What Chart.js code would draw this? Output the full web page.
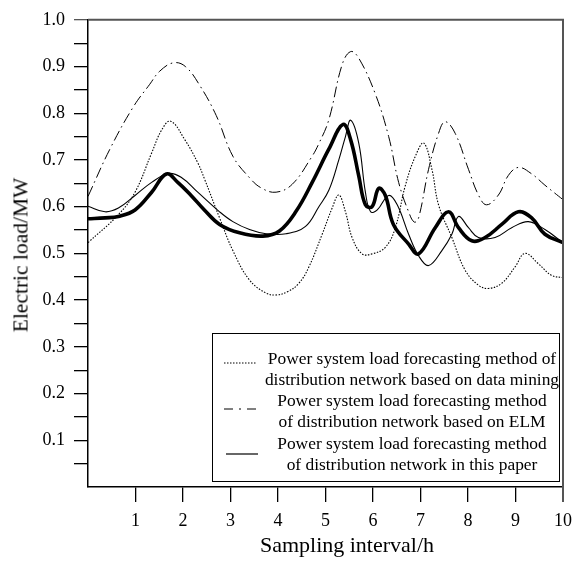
<!DOCTYPE html>
<html>
<head>
<meta charset="utf-8">
<script src="https://cdn.jsdelivr.net/npm/chart.js@4"></script>
<style>
  body { margin: 0; background: #fff; }
  #wrap { position: relative; width: 580px; height: 566px; font-family: "Liberation Serif", "DejaVu Serif", serif; color: #000; }
  #chart { position: absolute; left: 0; top: 0; }
  .ytitle { position: absolute; left: 21px; top: 255px; transform: translate(-50%, -50%) rotate(-90deg); font-size: 21.5px; white-space: nowrap; }
  .xtitle { position: absolute; left: 347px; top: 545px; transform: translate(-50%, -50%); font-size: 22px; white-space: nowrap; }
  .legend { position: absolute; left: 212px; top: 333px; width: 346px; height: 147px; border: 1.3px solid #000; background: #fff; }
  .legend .txt { position: absolute; left: 40px; width: 318px; text-align: center; font-size: 17.4px; line-height: 21px; white-space: nowrap; }
  .legend svg { position: absolute; left: 0; top: 0; }
</style>
</head>
<body>
<div id="wrap">
  <canvas id="chart" width="580" height="566"></canvas>
  <div class="ytitle">Electric load/MW</div>
  <div class="xtitle">Sampling interval/h</div>
  <div class="legend">
    <svg width="60" height="147">
      <line x1="11" y1="29" x2="43" y2="29" stroke="#000" stroke-width="1" stroke-dasharray="1.5 1.5"/>
      <line x1="11" y1="75" x2="43" y2="75" stroke="#000" stroke-width="1" stroke-dasharray="9 6 2 6 9 100"/>
      <line x1="13" y1="120" x2="45" y2="120" stroke="#000" stroke-width="1.2"/>
    </svg>
    <div class="txt" style="top:14px">Power system load forecasting method of<br>distribution network based on data mining</div>
    <div class="txt" style="top:56px">Power system load forecasting method<br>of distribution network based on ELM</div>
    <div class="txt" style="top:99px">Power system load forecasting method<br>of distribution network in this paper</div>
  </div>
</div>
<script>
// data mining method (dotted)
const miningX = [0, 0.64, 0.99, 1.34, 1.55, 1.74, 2.04, 2.31, 2.45, 2.77, 3.05, 3.4, 3.75, 3.96, 4.2, 4.44, 4.65, 4.93, 5.14, 5.28, 5.42, 5.56, 5.77, 5.98, 6.26, 6.47, 6.68, 6.9, 7.07, 7.24, 7.38, 7.66, 7.94, 8.22, 8.43, 8.71, 8.99, 9.2, 9.48, 9.76, 10];
const miningY = [0.523, 0.583, 0.631, 0.715, 0.764, 0.783, 0.743, 0.694, 0.66, 0.576, 0.506, 0.443, 0.415, 0.411, 0.418, 0.436, 0.471, 0.541, 0.597, 0.625, 0.589, 0.534, 0.499, 0.499, 0.513, 0.555, 0.645, 0.71, 0.736, 0.68, 0.604, 0.534, 0.464, 0.432, 0.425, 0.436, 0.471, 0.5, 0.478, 0.453, 0.448];

// ELM method (dash-dot)
const elmX = [0, 0.46, 0.95, 1.3, 1.51, 1.8, 2.05, 2.35, 2.7, 3.05, 3.4, 3.65, 3.96, 4.3, 4.7, 4.86, 5.07, 5.35, 5.53, 5.7, 6.05, 6.33, 6.54, 6.75, 6.87, 6.96, 7.17, 7.38, 7.52, 7.73, 8.01, 8.22, 8.39, 8.64, 8.85, 9.06, 9.33, 9.62, 10];
const elmY = [0.622, 0.723, 0.813, 0.862, 0.89, 0.908, 0.9, 0.86, 0.795, 0.708, 0.662, 0.64, 0.631, 0.648, 0.705, 0.735, 0.786, 0.904, 0.932, 0.918, 0.841, 0.75, 0.652, 0.589, 0.567, 0.576, 0.68, 0.757, 0.782, 0.757, 0.68, 0.625, 0.604, 0.625, 0.667, 0.684, 0.671, 0.646, 0.615];

// method in this paper (thin solid)
const paperX = [0, 0.36, 0.64, 0.99, 1.34, 1.69, 1.96, 2.31, 2.77, 3.05, 3.4, 3.75, 4.17, 4.58, 4.86, 5.07, 5.28, 5.42, 5.53, 5.7, 5.84, 5.95, 6.09, 6.33, 6.51, 6.75, 6.96, 7.17, 7.45, 7.66, 7.8, 8.01, 8.22, 8.57, 8.92, 9.27, 9.62, 10];
const paperY = [0.601, 0.589, 0.597, 0.624, 0.652, 0.671, 0.663, 0.631, 0.589, 0.568, 0.551, 0.542, 0.542, 0.558, 0.6, 0.635, 0.7, 0.75, 0.785, 0.736, 0.631, 0.589, 0.593, 0.624, 0.604, 0.541, 0.495, 0.474, 0.506, 0.541, 0.579, 0.555, 0.534, 0.534, 0.555, 0.568, 0.551, 0.523];

// actual load (thick solid, not in legend)
const actualX = [0, 0.36, 0.64, 0.99, 1.34, 1.65, 1.89, 2.17, 2.45, 2.77, 3.19, 3.68, 4.03, 4.38, 4.72, 5.07, 5.37, 5.53, 5.7, 5.84, 5.98, 6.12, 6.26, 6.43, 6.75, 6.96, 7.31, 7.59, 7.8, 8.08, 8.36, 8.71, 9.06, 9.34, 9.62, 10];
const actualY = [0.574, 0.576, 0.579, 0.593, 0.631, 0.67, 0.652, 0.624, 0.593, 0.562, 0.544, 0.537, 0.548, 0.59, 0.652, 0.723, 0.776, 0.743, 0.666, 0.604, 0.6, 0.639, 0.624, 0.562, 0.52, 0.499, 0.555, 0.589, 0.555, 0.527, 0.534, 0.562, 0.589, 0.576, 0.541, 0.523];

const xTicks = [1, 2, 3, 4, 5, 6, 7, 8, 9, 10];
const yTicks = [0.1, 0.2, 0.3, 0.4, 0.5, 0.6, 0.7, 0.8, 0.9, 1.0];

const pts = (xs, ys) => xs.map((x, i) => ({ x, y: ys[i] }));
const tickFont = { family: '"Liberation Serif", serif', size: 18 };

const line = (data, width, dash) => ({
  data, borderColor: '#000', borderWidth: width, borderDash: dash,
  pointRadius: 0, fill: false, tension: 0.4,
});

// gray top / right frame
const frame = {
  id: 'frame',
  afterDraw(chart) {
    const { ctx, chartArea: a } = chart;
    ctx.save();
    ctx.strokeStyle = '#555';
    ctx.lineWidth = 2;
    ctx.beginPath();
    ctx.moveTo(a.left, a.top);
    ctx.lineTo(a.right, a.top);
    ctx.lineTo(a.right, a.bottom + 15);
    ctx.stroke();
    ctx.restore();
  },
};

new Chart(document.getElementById('chart'), {
  type: 'line',
  data: {
    datasets: [
      line(pts(miningX, miningY), 1.1, [1.5, 1.5]),
      line(pts(elmX, elmY), 1, [11, 4, 1.5, 4]),
      line(pts(paperX, paperY), 1.1, []),
      line(pts(actualX, actualY), 3.6, []),
    ],
  },
  options: {
    responsive: false,
    animation: false,
    layout: { padding: { top: 11, right: 15, left: 0, bottom: 0 } },
    plugins: { legend: { display: false }, tooltip: { enabled: false } },
    scales: {
      x: {
        type: 'linear', min: 0, max: 10,
        afterFit: s => { s.height = 79; },
        border: { color: '#000', width: 1.5 },
        grid: {
          drawOnChartArea: false, tickLength: 15, lineWidth: 1.3,
          color: c => (c.tick && c.tick.value === 0 ? 'rgba(0,0,0,0)' : '#000'),
        },
        ticks: {
          stepSize: 1, autoSkip: false, maxRotation: 0, padding: 8,
          font: tickFont, color: '#000',
          callback: v => (xTicks.includes(v) ? String(v) : ''),
        },
      },
      y: {
        min: 0, max: 1,
        afterFit: s => { s.width = 88; },
        border: { color: '#000', width: 1.5 },
        grid: {
          drawOnChartArea: false, tickLength: 14, lineWidth: 1.3,
          color: c => {
            const v = c.tick ? c.tick.value : 0;
            if (v < 0.01) return 'rgba(0,0,0,0)';
            return v > 0.99 ? '#555' : '#000';
          },
        },
        ticks: {
          stepSize: 0.05, autoSkip: false, padding: 9,
          font: tickFont, color: '#000',
          callback: v => {
            const hit = yTicks.find(t => Math.abs(t - v) < 1e-6);
            return hit ? hit.toFixed(1) : '';
          },
        },
      },
    },
  },
  plugins: [frame],
});
</script>
</body>
</html>
